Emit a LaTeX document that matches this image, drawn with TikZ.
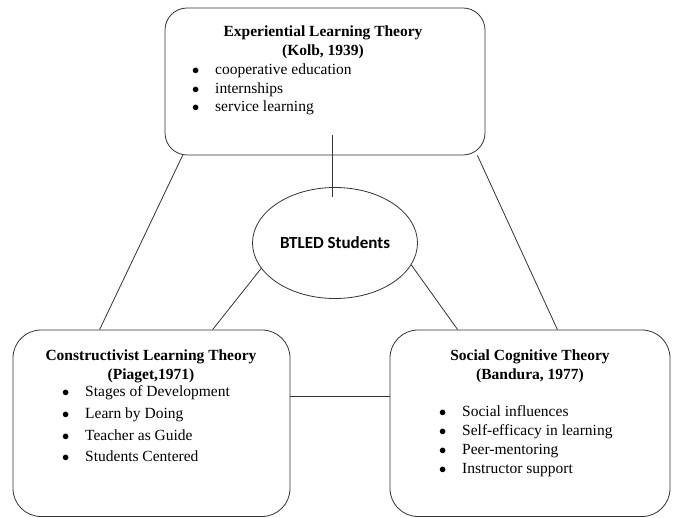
\documentclass[tikz,border=0pt]{standalone}
\usepackage{fontspec}
\setmainfont{Liberation Serif}
\newfontfamily\ellipsefont{Carlito}
\usepackage{tikz}
\usetikzlibrary{shapes.geometric, positioning}

% bullet with a fixed gap before the item text
\newcommand{\bul}{\makebox[23pt][l]{$\bullet$}}

\begin{document}
\begin{tikzpicture}[
    x=1pt, y=-1pt,
    theory/.style={
        rectangle,
        draw=black!80,
        line width=0.8pt,
        inner sep=0pt,
        rounded corners=28pt
    },
    title/.style={
        font=\fontsize{15.5}{19}\selectfont\bfseries,
        align=center,
        inner sep=0pt,
        anchor=base
    },
    item/.style={
        font=\fontsize{15.5}{19}\selectfont,
        inner sep=0pt,
        anchor=base west
    },
    link/.style={draw=black!80, line width=0.8pt}
]
  \useasboundingbox (0,0) rectangle (674,518);

  % the three theory boxes and the centre
  \node[theory, rounded corners=22pt, minimum width=320pt, minimum height=147pt] (kolb) at (325,81.5) {};
  \node[theory, minimum width=277pt, minimum height=186.5pt] (piaget) at (151.5,423.25) {};
  \node[theory, minimum width=280pt, minimum height=186.5pt] (bandura) at (530,423.25) {};
  \node[ellipse, draw=black!80, line width=0.8pt, minimum width=156pt, minimum height=111pt,
        font=\ellipsefont\bfseries\fontsize{17}{20}\selectfont] (students) at (335,243) {BTLED Students};

  % titles (anchored on the second line)
  \node[title] (kolbtitle) at (323,56) {Experiential Learning Theory\\(Kolb, 1939)};
  \node[title] (piagettitle) at (151,379) {Constructivist Learning Theory\\(Piaget,1971)};
  \node[title] (banduratitle) at (530,379) {Social Cognitive Theory\\(Bandura, 1977)};

  % bullet lists
  \foreach \txt [count=\i] in {cooperative education, internships, service learning}
    \node[item] (kolb\i) at (192,{56.5+18.5*\i}) {\bul\txt};
  \foreach \txt [count=\i] in {Stages of Development, Learn by Doing, Teacher as Guide, Students Centered}
    \node[item] (piaget\i) at (62,{375+21.7*\i}) {\bul\txt};
  \foreach \txt [count=\i] in {Social influences, Self-efficacy in learning, Peer-mentoring, Instructor support}
    \node[item] (bandura\i) at (439,{397+19*\i}) {\bul\txt};

  % connections
  \draw[link] ([xshift=18pt]kolb.south west) -- ([xshift=87pt]piaget.north west);
  \draw[link] ([xshift=-8pt]kolb.south east) -- ([xshift=-113pt]bandura.north east);
  \draw[link] ([xshift=7pt,yshift=20pt]kolb.south) -- ([xshift=-3pt,yshift=-10pt]students.north);
  \draw[link] (students.199) -- ([xshift=200pt]piaget.north west);
  \draw[link] (students.344) -- ([xshift=68pt]bandura.north west);
  \draw[link] ([yshift=26.5pt]piaget.east) -- ([yshift=26.5pt]bandura.west);
\end{tikzpicture}
\end{document}
